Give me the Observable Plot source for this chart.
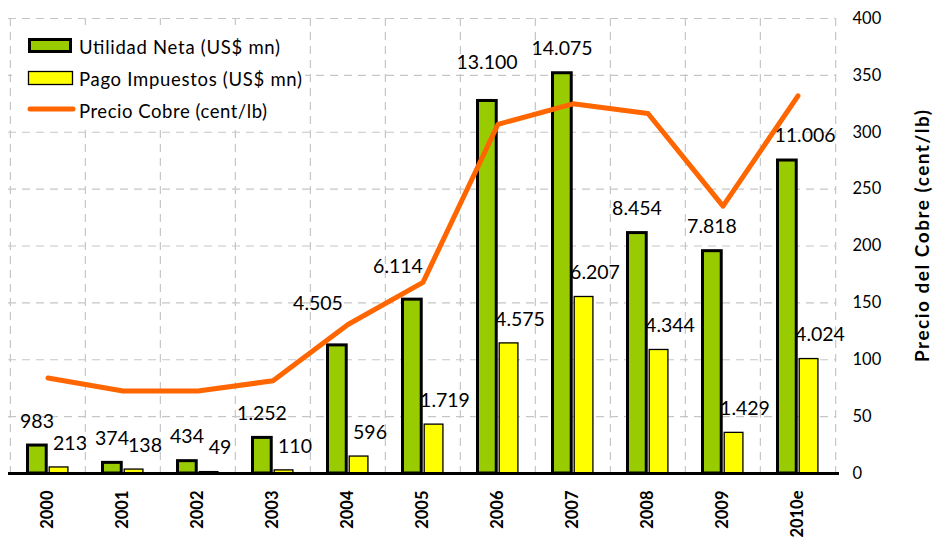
<!DOCTYPE html>
<html>
<head>
<meta charset="utf-8">
<script src="https://cdn.jsdelivr.net/npm/d3@7"></script>
<script src="https://cdn.jsdelivr.net/npm/@observablehq/plot@0.6"></script>
<style>
  html, body { margin: 0; padding: 0; background: #fff; }
  #chart { position: relative; width: 935px; height: 543px; }
  svg { font-family: Lato, "Open Sans", sans-serif; }
  g[aria-label="x-axis tick label"] text { font-weight: bold; }
</style>
</head>
<body>
<div id="chart"></div>
<script>
// ---- data ----
const years = ["2000","2001","2002","2003","2004","2005","2006","2007","2008","2009","2010e"];
const utilidadNeta = [983, 374, 434, 1252, 4505, 6114, 13100, 14075, 8454, 7818, 11006];   // US$ mn
const pagoImpuestos = [213, 138, 49, 110, 596, 1719, 4575, 6207, 4344, 1429, 4024];        // US$ mn
const precioCobre = [84, 72.5, 72.5, 81.5, 131, 168, 307, 325, 316.5, 235, 332];           // cent/lb
const rightTicks = [0, 50, 100, 150, 200, 250, 300, 350, 400];
const legendLabels = ["Utilidad Neta (US$ mn)", "Pago Impuestos (US$ mn)", "Precio Cobre (cent/lb)"];
const axisTitle = "Precio del Cobre (cent/lb)";

// ---- layout ----
const W = 935, H = 543;
const mL = 8, mR = 99, mT = 18, mB = 70;
const bw = (W - mL - mR) / years.length;
const usdPerCent = 16000 / 400; // hidden left axis 0–16.000 mapped onto 0–400

const fmt = d3.formatLocale({decimal: ",", thousands: ".", grouping: [3], currency: ["$", ""]}).format(",d");

const green = "#99CC00", yellow = "#FFFF00", orange = "#FF6600", gridC = "#c6c6c6";

const rows = years.map((y, i) => ({year: y, u: utilidadNeta[i] / usdPerCent, p: pagoImpuestos[i] / usdPerCent, uRaw: utilidadNeta[i], pRaw: pagoImpuestos[i], c: precioCobre[i]}));

// label nudges for green labels (moved away from the line as in original)
const greenNudge = {"2004": [-30, -42], "2005": [-25, -33], "2006": [-11, -38], "2010e": [7, -25]};

const greenLabelMarks = rows.map(r => {
  const [dx, dy] = greenNudge[r.year] || [-11, -24];
  return Plot.text([r], {x: "year", y: "u", text: d => fmt(d.uRaw), dx, dy, fontSize: 19.5, fill: "#000"});
});

const chart = Plot.plot({
  width: W, height: H,
  marginLeft: mL, marginRight: mR, marginTop: mT, marginBottom: mB,
  style: {fontFamily: "Lato, 'Open Sans', sans-serif", background: "#fff", overflow: "visible"},
  x: {type: "band", domain: years, paddingInner: 0, paddingOuter: 0},
  y: {domain: [0, 400]},
  marks: [
    Plot.gridY(rightTicks.filter(t => t > 0), {stroke: gridC, strokeOpacity: 1, strokeWidth: 1.2, strokeDasharray: "8,6"}),
    Plot.ruleX(years, {x: d => d, dx: -bw / 2, stroke: gridC, strokeWidth: 1.2, strokeDasharray: "8,6"}),
    Plot.ruleX([years[years.length - 1]], {x: d => d, dx: bw / 2, stroke: gridC, strokeWidth: 1.2, strokeDasharray: "8,6"}),
    // yellow labels (drawn behind green bars, as in the original)
    Plot.text(rows, {x: "year", y: "p", text: d => fmt(d.pRaw), dx: 22, dy: -24, fontSize: 19.5, fill: "#000"}),
    Plot.barY(rows, {x: "year", y: "u", fill: green, stroke: "#000", strokeWidth: 3, insetLeft: 17.5, insetRight: bw - 36.5}),
    Plot.barY(rows, {x: "year", y: "p", fill: yellow, stroke: "#000", strokeWidth: 1.3, insetLeft: 39.2, insetRight: bw - 58.2}),
    ...greenLabelMarks,
    Plot.line(rows, {x: "year", y: "c", stroke: orange, strokeWidth: 5, strokeLinejoin: "round", strokeLinecap: "round"}),
    Plot.ruleY([0], {stroke: "#000", strokeWidth: 3, insetRight: -3}),
    Plot.axisY(rightTicks, {anchor: "right", tickSize: 0, tickPadding: 16, fontSize: 16.5, label: null, textAnchor: "start"}),
    Plot.axisX({tickRotate: -90, tickSize: 0, tickPadding: 17, fontSize: 16.5, fontWeight: "bold", label: null})
  ]
});

document.getElementById("chart").appendChild(chart);

const svg = d3.select(chart);

// ---- right axis title ----
svg.append("text")
  .attr("transform", `translate(922,236) rotate(-90)`)
  .attr("text-anchor", "middle")
  .attr("dy", "0.35em")
  .attr("font-size", 19)
  .attr("font-weight", "bold")
  .attr("fill", "#000")
  .attr("textLength", 252)
  .attr("lengthAdjust", "spacing")
  .text(axisTitle);

// ---- legend ----
const lg = svg.append("g").attr("class", "legend");
lg.append("rect").attr("x", 12).attr("y", 25).attr("width", 293).attr("height", 102).attr("fill", "#fff").attr("stroke", "none");
lg.append("rect").attr("x", 29.5).attr("y", 39.5).attr("width", 41).attr("height", 12).attr("fill", green).attr("stroke", "#000").attr("stroke-width", 3);
lg.append("rect").attr("x", 28.5).attr("y", 71.5).attr("width", 44).attr("height", 13).attr("fill", yellow).attr("stroke", "#000").attr("stroke-width", 1.3);
lg.append("line").attr("x1", 30).attr("x2", 73).attr("y1", 109).attr("y2", 109).attr("stroke", orange).attr("stroke-width", 5).attr("stroke-linecap", "round");
const ys = [48, 80, 112];
const lens = [201, 223, 188];
legendLabels.forEach((t, i) => {
  lg.append("text").attr("x", 79).attr("y", ys[i]).attr("dy", "0.35em")
    .attr("text-anchor", "start").attr("font-size", 18.5).attr("fill", "#000")
    .attr("textLength", lens[i]).attr("lengthAdjust", "spacing")
    .text(t);
});
</script>
</body>
</html>
